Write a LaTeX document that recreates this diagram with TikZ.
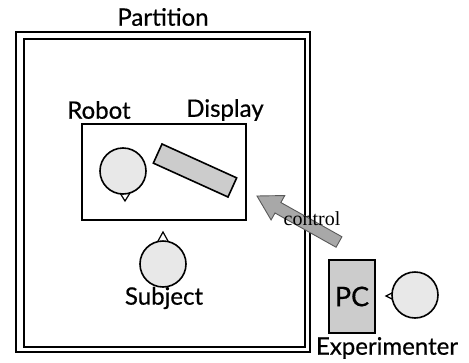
\documentclass[tikz,border=0pt]{standalone}
\usepackage{fontspec}
\setmainfont{Lato}[FakeBold=0.6]
\newfontfamily\serifc{Liberation Serif}
\usetikzlibrary{calc}
\definecolor{boxgray}{HTML}{CCCCCC}
\definecolor{headgray}{HTML}{E8E8E8}
\definecolor{arrgray}{HTML}{A8A8A8}
\begin{document}
\begin{tikzpicture}[x=1pt,y=-1pt,
  lbl/.style={font=\fontsize{24}{24}\selectfont, inner sep=0pt},
  head/.style={circle, draw, line width=1.6pt, fill=headgray, minimum size=46pt, inner sep=0pt},
  nose/.style={draw, line width=1.2pt, fill=white},
  frame/.style={draw, line width=1.6pt}]
\useasboundingbox (0,0) rectangle (469,362);
% partition
\draw[frame] (16,32) rectangle (310,352);
\draw[frame] (24,39) rectangle (305,347);
\node[lbl] (partition) at (163,17) {Partition};
% robot/display box
\draw[frame] (82,124) rectangle (246,220);
\node[lbl] (robotlbl) at (99,110) {Robot};
\node[lbl] (displbl) at (225,110) {Display};
% robot head
\draw[nose] (120,193) -- (125,201) -- (130,193);
\node[head] (robot) at (123,171) {};
% display
\node[draw, line width=1.6pt, fill=boxgray, minimum width=82pt, minimum height=21pt, rotate=-24.4, inner sep=0pt] (display) at (195,170.5) {};
% subject
\draw[nose] (158,241) -- (163,232) -- (168,241);
\node[head] (subject) at (163,264) {};
\node[lbl] (subjlbl) at (164,298) {Subject};
% PC
\node[draw, line width=1.6pt, fill=boxgray, minimum width=46pt, minimum height=73pt, inner sep=0pt, font=\fontsize{27}{27}\selectfont] (pc) at (352,296.5) {PC};
% experimenter
\draw[nose] (394,292) -- (386,296) -- (394,300);
\node[head] (exp) at (415,295) {};
\node[lbl] (explbl) at (387,348) {Experimenter};
% control arrow
\coordinate (ctail) at (339,242);
\coordinate (chead) at (257,196);
\coordinate (hb) at ($(chead)!24pt!(ctail)$);
\draw[line width=0.9pt, fill=arrgray, draw=gray!70!black, line join=miter]
  ($(ctail)!6pt!90:(chead)$) -- ($(hb)!6pt!90:(chead)$) -- ($(hb)!14pt!90:(chead)$)
  -- (chead) -- ($(hb)!14pt!-90:(chead)$) -- ($(hb)!6pt!-90:(chead)$)
  -- ($(ctail)!6pt!-90:(chead)$) -- cycle;
\node[font=\serifc\fontsize{20}{20}\selectfont, inner sep=0pt] (ctl) at (312,219) {control};
\end{tikzpicture}
\end{document}
